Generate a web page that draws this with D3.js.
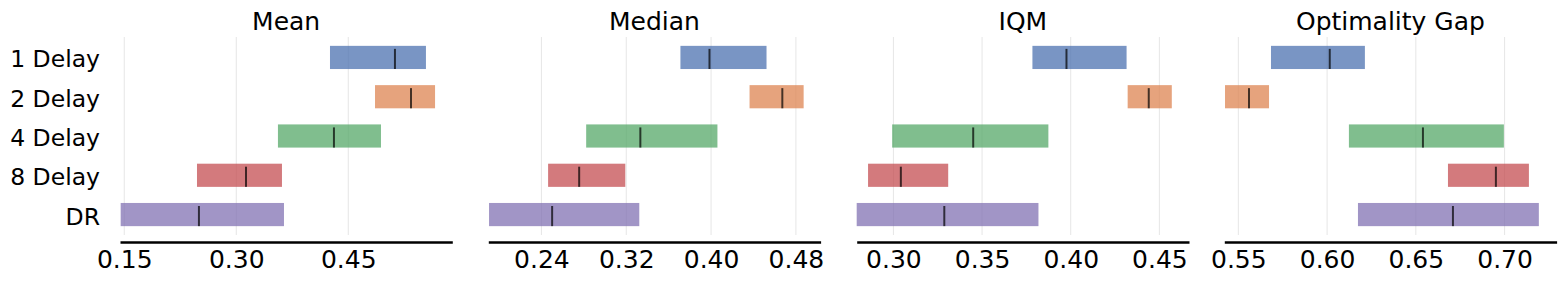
<!DOCTYPE html>
<html>
<head>
<meta charset="utf-8">
<script src="https://cdn.jsdelivr.net/npm/d3@7"></script>
<style>
  body { margin: 0; background: #fff; }
  svg text { font-family: "DejaVu Sans", sans-serif; fill: #000; }
</style>
</head>
<body>
<svg id="chart" width="1565" height="281"></svg>
<script>
const categories = ['1 Delay', '2 Delay', '4 Delay', '8 Delay', 'DR'];
const colors = ['#4c72b0', '#dd8452', '#55a868', '#c44e52', '#8172b3'];
const metrics = ['Mean', 'Median', 'IQM', 'Optimality Gap'];

// [low, high] interval and point estimate per category
const meanLow = [0.4255, 0.4858, 0.3558, 0.2474, 0.1452];
const meanHigh = [0.554, 0.5662, 0.4938, 0.3612, 0.3639];
const meanPoint = [0.5125, 0.534, 0.4308, 0.313, 0.25];

const medianLow = [0.3711, 0.4363, 0.2822, 0.2463, 0.1906];
const medianHigh = [0.4523, 0.4873, 0.406, 0.3191, 0.3323];
const medianPoint = [0.3985, 0.4672, 0.3333, 0.2756, 0.2501];

const iqmLow = [0.3784, 0.4321, 0.2993, 0.2857, 0.2793];
const iqmHigh = [0.4315, 0.457, 0.3874, 0.3309, 0.3818];
const iqmPoint = [0.3976, 0.444, 0.345, 0.3042, 0.3287];

const gapLow = [0.5684, 0.5425, 0.6123, 0.6681, 0.6174];
const gapHigh = [0.6213, 0.5673, 0.6996, 0.7137, 0.7193];
const gapPoint = [0.6015, 0.556, 0.654, 0.6951, 0.6709];

const xDomains = [[0.1443, 0.5893], [0.1899, 0.5033], [0.2793, 0.4667], [0.5421, 0.7293]];
const xTicks = [
  [0.15, 0.30, 0.45],
  [0.24, 0.32, 0.40, 0.48],
  [0.30, 0.35, 0.40, 0.45],
  [0.55, 0.60, 0.65, 0.70]
];

const lows = [meanLow, medianLow, iqmLow, gapLow];
const highs = [meanHigh, medianHigh, iqmHigh, gapHigh];
const points = [meanPoint, medianPoint, iqmPoint, gapPoint];

const svg = d3.select('#chart');
const panelLeft = [120, 488.3, 856.7, 1224.3];
const panelWidth = 332.3;
const axisY = 242;

const yScale = d3.scaleBand()
  .domain(categories)
  .range([38, 234])
  .paddingInner(0.41)
  .paddingOuter(0.2);

metrics.forEach((metric, i) => {
  const x = d3.scaleLinear()
    .domain(xDomains[i])
    .range([panelLeft[i], panelLeft[i] + panelWidth]);

  const g = svg.append('g');

  // grid
  g.selectAll('.grid')
    .data(xTicks[i])
    .enter()
    .append('line')
    .attr('x1', d => x(d))
    .attr('x2', d => x(d))
    .attr('y1', 37)
    .attr('y2', 235)
    .attr('stroke', '#e6e6e6')
    .attr('stroke-width', 1);

  // bars + point estimates
  categories.forEach((c, j) => {
    g.append('rect')
      .attr('x', x(lows[i][j]))
      .attr('y', yScale(c))
      .attr('width', x(highs[i][j]) - x(lows[i][j]))
      .attr('height', yScale.bandwidth())
      .attr('fill', colors[j])
      .attr('fill-opacity', 0.75);
    g.append('line')
      .attr('x1', x(points[i][j]))
      .attr('x2', x(points[i][j]))
      .attr('y1', yScale(c) + 3)
      .attr('y2', yScale(c) + yScale.bandwidth())
      .attr('stroke', '#000')
      .attr('stroke-opacity', 0.7)
      .attr('stroke-width', 2);
  });

  // x axis
  const axis = g.append('g')
    .attr('transform', `translate(0,${axisY})`)
    .call(d3.axisBottom(x).tickValues(xTicks[i]).tickFormat(d3.format('.2f')).tickSize(0).tickPadding(8));
  axis.select('.domain').attr('stroke', '#000').attr('stroke-width', 2.5);
  axis.selectAll('text').attr('font-size', '25px');

  // title
  g.append('text')
    .attr('x', panelLeft[i] + panelWidth / 2)
    .attr('y', 29.5)
    .attr('text-anchor', 'middle')
    .attr('font-size', '25px')
    .text(metric);
});

// y labels
svg.selectAll('.ylabel')
  .data(categories)
  .enter()
  .append('text')
  .attr('x', 100)
  .attr('y', d => yScale(d) + yScale.bandwidth() / 2 + 10)
  .attr('text-anchor', 'end')
  .attr('font-size', '23.5px')
  .text(d => d);
</script>
</body>
</html>
